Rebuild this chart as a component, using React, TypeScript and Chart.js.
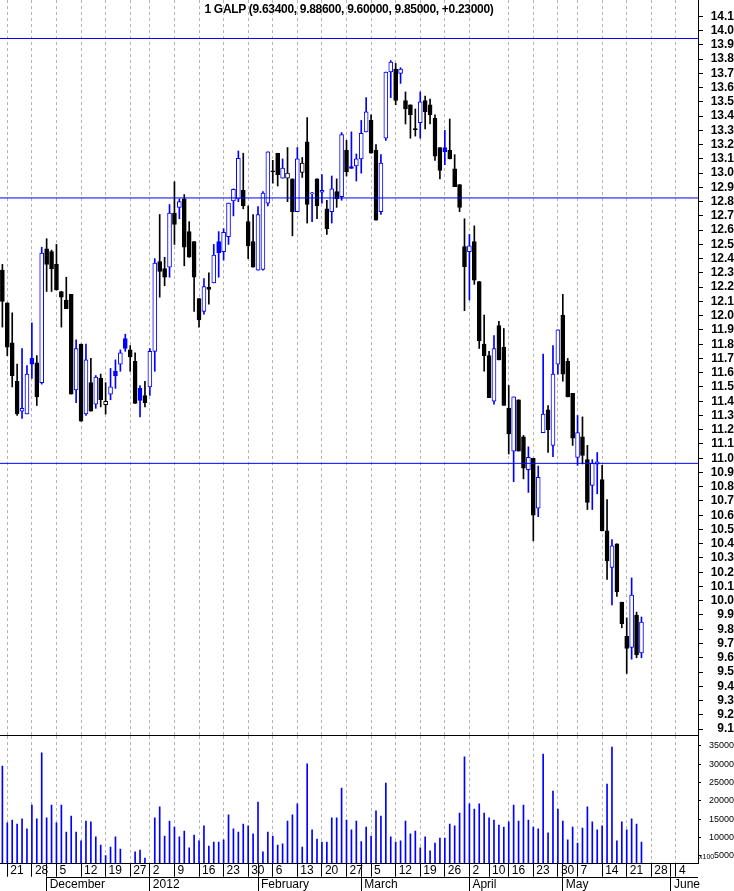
import React, { useEffect, useRef } from "react";
import { Chart, registerables } from "chart.js";

Chart.register(...registerables);

// ---- daily candles (trading days from 18 Nov 2011 to 24 May 2012) ----
const opens = [
  12.32, 12.09, 11.81, 11.54, 11.33, 11.31, 11.70, 11.67, 11.53, 12.47,
  12.45, 12.36, 12.17, 12.11, 12.15, 11.48, 11.80, 11.31, 11.53, 11.38,
  11.56, 11.375, 11.45, 11.61, 11.66, 11.84, 11.76, 11.68, 11.49, 11.44,
  11.50, 11.75, 12.38, 12.33, 12.34, 12.72, 12.76, 12.82, 12.59, 12.52,
  12.12, 12.03, 12.20, 12.23, 12.52, 12.45, 12.555, 12.805, 12.82, 12.88,
  12.66, 12.52, 12.32, 12.325, 12.79, 13.015, 13.14, 12.965, 12.965, 12.96,
  12.73, 13.005, 13.22, 12.855, 12.96, 12.866, 12.75, 12.73, 12.87, 12.835,
  13.16, 13.046, 13.05, 13.10, 13.29, 13.37, 13.16, 12.73, 13.245, 13.71,
  13.73, 13.70, 13.51, 13.48, 13.31, 13.355, 13.51, 13.48, 13.385, 13.18,
  13.18, 13.16, 13.03, 12.92, 12.485, 12.45, 12.52, 12.24, 11.80, 11.72,
  11.40, 11.93, 11.78, 11.35, 11.05, 11.41, 11.15, 10.92, 11.00, 10.65,
  11.18, 11.34, 11.09, 11.66, 12.005, 11.68, 11.455, 11.006, 11.15, 10.99,
  10.81, 10.959, 10.85, 10.49, 10.234, 10.40, 9.99, 9.75, 9.673, 9.90,
  9.634,
];
const highs = [
  12.36, 12.09, 12.02, 11.66, 11.77, 11.65, 11.95, 11.72, 12.48, 12.54,
  12.46, 12.50, 12.17, 12.27, 12.15, 11.83, 11.80, 11.80, 11.70, 11.58,
  11.59, 11.53, 11.63, 11.69, 11.76, 11.87, 11.79, 11.74, 11.51, 11.54,
  11.77, 12.40, 12.71, 12.41, 12.78, 12.94, 12.82, 12.85, 12.66, 12.52,
  12.12, 12.26, 12.30, 12.50, 12.59, 12.61, 12.79, 12.89, 13.156, 13.14,
  12.77, 12.71, 12.765, 12.87, 13.15, 13.09, 13.14, 13.10, 13.18, 12.96,
  13.18, 13.11, 13.39, 12.865, 12.96, 12.99, 12.81, 12.98, 12.96, 13.285,
  13.23, 13.29, 13.135, 13.37, 13.53, 13.41, 13.20, 13.13, 13.71, 13.79,
  13.77, 13.74, 13.57, 13.48, 13.45, 13.57, 13.54, 13.52, 13.41, 13.18,
  13.30, 13.38, 13.13, 12.92, 12.68, 12.57, 12.63, 12.24, 12.005, 11.75,
  11.86, 11.96, 11.91, 11.51, 11.43, 11.41, 11.16, 11.08, 11.00, 10.945,
  11.73, 11.37, 11.79, 11.90, 12.15, 11.70, 11.455, 11.30, 11.29, 11.09,
  10.99, 11.04, 10.95, 10.71, 10.43, 10.40, 9.99, 9.88, 10.16, 9.92,
  9.886,
];
const lows = [
  11.92, 11.72, 11.50, 11.30, 11.28, 11.31, 11.56, 11.37, 11.52, 12.17,
  12.17, 12.18, 11.92, 12.05, 11.45, 11.39, 11.26, 11.30, 11.33, 11.35,
  11.36, 11.31, 11.41, 11.49, 11.61, 11.75, 11.61, 11.385, 11.29, 11.36,
  11.44, 11.61, 12.13, 12.21, 12.27, 12.50, 12.68, 12.35, 12.41, 12.03,
  11.92, 12.01, 12.08, 12.23, 12.27, 12.39, 12.50, 12.70, 12.80, 12.75,
  12.40, 12.34, 12.32, 12.32, 12.77, 12.93, 12.91, 12.965, 12.80, 12.56,
  12.73, 12.97, 12.65, 12.66, 12.68, 12.79, 12.57, 12.65, 12.76, 12.81,
  12.98, 13.034, 12.945, 13.00, 13.29, 13.14, 12.67, 12.71, 13.23, 13.53,
  13.48, 13.63, 13.345, 13.245, 13.26, 13.245, 13.31, 13.345, 13.09, 12.96,
  13.06, 13.10, 12.905, 12.73, 12.035, 12.11, 12.22, 11.77, 11.61, 11.425,
  11.38, 11.69, 11.37, 11.03, 10.835, 11.05, 10.855, 10.76, 10.42, 10.59,
  11.18, 11.04, 11.01, 11.59, 11.54, 11.43, 11.09, 10.95, 10.96, 10.64,
  10.64, 10.75, 10.49, 10.15, 9.97, 10.03, 9.81, 9.49, 9.59, 9.60,
  9.60,
];
const closes = [
  12.10, 11.78, 11.58, 11.31, 11.35, 11.59, 11.66, 11.43, 12.44, 12.36,
  12.33, 12.18, 12.13, 12.05, 11.45, 11.77, 11.26, 11.69, 11.33, 11.57,
  11.41, 11.40, 11.50, 11.58, 11.74, 11.77, 11.71, 11.385, 11.405, 11.39,
  11.75, 12.37, 12.31, 12.27, 12.72, 12.64, 12.80, 12.48, 12.41, 12.27,
  11.97, 12.205, 12.185, 12.425, 12.44, 12.585, 12.79, 12.887, 13.104, 12.77,
  12.49, 12.34, 12.71, 12.86, 13.15, 13.01, 12.99, 13.035, 13.00, 12.73,
  13.10, 13.07, 12.78, 12.862, 12.77, 12.88, 12.61, 12.89, 12.82, 13.27,
  13.01, 13.034, 13.10, 13.28, 13.43, 13.14, 12.67, 13.07, 13.71, 13.78,
  13.51, 13.73, 13.45, 13.41, 13.305, 13.50, 13.43, 13.41, 13.12, 13.02,
  13.15, 13.10, 12.905, 12.76, 12.344, 12.49, 12.25, 11.825, 11.72, 11.425,
  11.77, 11.69, 11.37, 11.17, 11.43, 11.05, 10.93, 11.006, 10.60, 10.866,
  11.31, 11.20, 11.59, 11.90, 11.59, 11.43, 11.14, 11.18, 11.02, 10.69,
  10.964, 10.975, 10.49, 10.28, 10.386, 10.063, 9.84, 9.666, 10.04, 9.62,
  9.85,
];
// volume, in hundreds of shares
const volumes = [
  29500, 14000, 14800, 13700, 15100, 12400, 18900, 15100, 33100, 15400,
  18900, 14000, 18900, 11500, 15900, 11500, 9100, 14500, 14300, 10200,
  8000, 5100, 7400, 10200, 6900, 2500, 2500, 6100, 6600, 4400,
  2500, 15400, 18400, 10400, 14500, 12900, 10200, 11800, 7200, 10700,
  9100, 13200, 7700, 8800, 8800, 9400, 16200, 12400, 11500, 13700,
  13200, 11000, 19700, 6100, 11500, 10400, 8000, 8300, 14500, 16200,
  19200, 7400, 30100, 12100, 9600, 8800, 8800, 15400, 15400, 23500,
  14800, 12100, 14500, 8900, 12900, 10400, 17300, 15900, 24900, 10200,
  8800, 9100, 14500, 11000, 11800, 7200, 10200, 6400, 8500, 9900,
  9900, 13700, 13200, 16700, 32000, 19200, 17800, 19200, 16700, 15400,
  14800, 13400, 12900, 14300, 18900, 14500, 18900, 14800, 12900, 12400,
  32800, 11300, 22700, 17800, 14500, 9400, 12900, 8500, 12600, 18400,
  14300, 12100, 13200, 24600, 34700, 9100, 14300, 12100, 15100, 13700,
  8800,
];
const FIRST_PREV_CLOSE = 12.4;

const levelLines = [13.945, 12.826, 10.964];

const priceTicks = [
  9.1, 9.2, 9.3, 9.4, 9.5, 9.6, 9.7, 9.8, 9.9, 10.0,
  10.1, 10.2, 10.3, 10.4, 10.5, 10.6, 10.7, 10.8, 10.9, 11.0,
  11.1, 11.2, 11.3, 11.4, 11.5, 11.6, 11.7, 11.8, 11.9, 12.0,
  12.1, 12.2, 12.3, 12.4, 12.5, 12.6, 12.7, 12.8, 12.9, 13.0,
  13.1, 13.2, 13.3, 13.4, 13.5, 13.6, 13.7, 13.8, 13.9, 14.0, 14.1,
];
const volumeTicks = [5000, 10000, 15000, 20000, 25000, 30000, 35000];

// trading-day index of each week start, and its day-of-month label
const weekTickIndex = [1, 6, 11, 16, 21, 26, 30, 35, 40, 45, 50, 55, 60, 65, 70, 75, 80, 85, 90, 95, 99, 103, 108, 113, 117, 122, 127, 132, 137];
const weekTickLabels = ["21", "28", "5", "12", "19", "27", "2", "9", "16", "23", "30", "6", "13", "20", "27", "5", "12", "19", "26", "2", "10", "16", "23", "30", "7", "14", "21", "28", "4"];
// dashed grid lines fall on Mondays that were trading days
const gridTickIndex = [1, 6, 11, 16, 21, 26, 30, 35, 40, 45, 50, 55, 60, 65, 70, 75, 80, 85, 90, 95, 103, 108, 113, 117, 122, 127, 132, 137];
// trading-day index of each month start, and its label
const monthTickIndex = [9, 30, 52, 73, 95, 114, 136];
const monthTickLabels = ["December", "2012", "February", "March", "April", "May", "June"];

const TITLE = "1 GALP (9.63400, 9.88600, 9.60000, 9.85000, +0.23000)";

const X_MIN = -0.485;
const X_MAX = 141.5;
const PRICE_MIN = 9.058;
const PRICE_MAX = 14.215;
const VOL_MIN = 3000;
const VOL_MAX = 37700;

const BLUE = "#0000ff";
const BLACK = "#000000";
const GRID_GRAY = "#b4b4b4";
const FONT = "'Liberation Sans', Arial, sans-serif";

const noPad = (s: any) => {
  s.paddingTop = 0;
  s.paddingBottom = 0;
  s.paddingLeft = 0;
  s.paddingRight = 0;
};

// top border of the month boxes, starting at the first labelled month
const monthBoxPlugin = {
  id: "monthBox",
  afterDraw(chart: any) {
    const s = chart.scales.x2;
    if (!s) return;
    const ctx = chart.ctx;
    const x0 = Math.round(s.getPixelForValue(monthTickIndex[0]));
    const y = Math.round(s.top) + 0.5;
    ctx.save();
    ctx.strokeStyle = BLACK;
    ctx.lineWidth = 1;
    ctx.beginPath();
    ctx.moveTo(x0, y);
    ctx.lineTo(s.right, y);
    ctx.stroke();
    ctx.restore();
  },
};

export default function App() {
  const priceRef = useRef<HTMLCanvasElement>(null);
  const volRef = useRef<HTMLCanvasElement>(null);

  useEffect(() => {
    document.body.style.margin = "0";
    const n = closes.length;
    const idx = Array.from({ length: n }, (_, i) => i);
    const colors = idx.map((i) =>
      closes[i] >= (i === 0 ? FIRST_PREV_CLOSE : closes[i - 1]) ? BLUE : BLACK
    );
    const fills = idx.map((i) => (closes[i] > opens[i] ? "#ffffff" : colors[i]));
    const setTicks = (vals: number[]) => (scale: any) => {
      scale.ticks = vals.map((v) => ({ value: v }));
    };
    const gridSet = new Set(gridTickIndex);
    const dayAxisTicks = Array.from(new Set([...weekTickIndex, ...monthTickIndex])).sort((a, b) => a - b);

    const price = new Chart(priceRef.current as HTMLCanvasElement, {
      type: "bar",
      data: {
        datasets: [
          ...levelLines.map((v) => ({
            type: "line" as const,
            data: [
              { x: X_MIN, y: v },
              { x: X_MAX, y: v },
            ],
            borderColor: BLUE,
            borderWidth: 1,
            pointRadius: 0,
            order: 0,
          })),
          {
            type: "bar" as const,
            data: idx.map((i) => ({
              x: i,
              y: [Math.min(opens[i], closes[i]), Math.max(opens[i], closes[i])],
            })),
            backgroundColor: fills,
            borderColor: colors,
            borderWidth: 1,
            borderSkipped: false,
            barThickness: 4,
            grouped: false,
            minBarLength: 1,
            order: 1,
          },
          {
            type: "bar" as const,
            data: idx.map((i) => ({ x: i, y: [lows[i], highs[i]] })),
            backgroundColor: colors,
            borderWidth: 0,
            barThickness: 1,
            grouped: false,
            order: 2,
          },
        ],
      } as any,
      options: {
        responsive: false,
        animation: false,
        layout: { padding: 0, autoPadding: false },
        plugins: { legend: { display: false }, tooltip: { enabled: false } },
        scales: {
          x: {
            type: "linear",
            min: X_MIN,
            max: X_MAX,
            offset: false,
            afterBuildTicks: setTicks(gridTickIndex),
            ticks: { display: false },
            grid: { color: GRID_GRAY, drawTicks: false, offset: false },
            border: { display: true, color: BLACK, dash: [3, 3] },
            afterFit: (s: any) => {
              s.height = 1;
              noPad(s);
            },
          },
          y: {
            type: "linear",
            position: "right",
            min: PRICE_MIN,
            max: PRICE_MAX,
            afterBuildTicks: setTicks(priceTicks),
            ticks: {
              autoSkip: false,
              font: { family: FONT, size: 12, weight: "bold" },
              color: BLACK,
              padding: 6.5,
              crossAlign: "far",
              callback: (v: any) => Number(v).toFixed(1),
            },
            grid: { drawOnChartArea: false, drawTicks: true, tickLength: 5, color: BLACK },
            border: { display: true, color: BLACK },
            afterFit: (s: any) => {
              s.width = 36;
              noPad(s);
            },
          },
        },
      } as any,
    });

    const vol = new Chart(volRef.current as HTMLCanvasElement, {
      type: "bar",
      data: {
        datasets: [
          {
            data: idx.map((i) => ({ x: i, y: volumes[i] })),
            backgroundColor: BLUE,
            borderWidth: 0,
            barThickness: 1,
          },
        ],
      } as any,
      options: {
        responsive: false,
        animation: false,
        layout: { padding: 0, autoPadding: false },
        plugins: { legend: { display: false }, tooltip: { enabled: false } },
        scales: {
          x: {
            type: "linear",
            position: "bottom",
            min: X_MIN,
            max: X_MAX,
            offset: false,
            afterBuildTicks: setTicks(dayAxisTicks),
            ticks: {
              autoSkip: false,
              maxRotation: 0,
              align: "start",
              labelOffset: 3,
              padding: -13.4,
              font: { family: FONT, size: 12 },
              color: BLACK,
              callback: (v: any) => {
                const k = weekTickIndex.indexOf(Number(v));
                return k >= 0 ? weekTickLabels[k] : "";
              },
            },
            grid: {
              offset: false,
              color: (ctx: any) => (ctx.tick && gridSet.has(ctx.tick.value) ? GRID_GRAY : "rgba(0,0,0,0)"),
              drawTicks: true,
              tickLength: 13.4,
              tickColor: BLACK,
              tickWidth: 1,
            },
            border: { display: true, color: BLACK, dash: [3, 3] },
            afterFit: (s: any) => {
              s.height = 13.4;
              noPad(s);
            },
          },
          x2: {
            type: "linear",
            position: "bottom",
            min: X_MIN,
            max: X_MAX,
            offset: false,
            afterBuildTicks: setTicks(monthTickIndex),
            ticks: {
              autoSkip: false,
              maxRotation: 0,
              align: "start",
              labelOffset: 3,
              padding: -13.2,
              font: { family: FONT, size: 12 },
              color: BLACK,
              callback: (v: any) => {
                const k = monthTickIndex.indexOf(Number(v));
                return k >= 0 ? monthTickLabels[k] : "";
              },
            },
            grid: {
              offset: false,
              drawOnChartArea: false,
              drawTicks: true,
              tickLength: 14.3,
              tickColor: BLACK,
            },
            border: { display: false },
            afterFit: (s: any) => {
              s.height = 14.3;
              noPad(s);
            },
          },
          y: {
            type: "linear",
            position: "right",
            min: VOL_MIN,
            max: VOL_MAX,
            afterBuildTicks: setTicks(volumeTicks),
            ticks: {
              autoSkip: false,
              font: { family: FONT, size: 9 },
              color: BLACK,
              padding: 8,
              crossAlign: "far",
              callback: (v: any) => String(v),
            },
            grid: { drawOnChartArea: false, drawTicks: true, tickLength: 3, color: BLACK },
            border: { display: true, color: BLACK },
            afterFit: (s: any) => {
              s.width = 36;
              noPad(s);
            },
          },
        },
      } as any,
      plugins: [monthBoxPlugin],
    });

    return () => {
      price.destroy();
      vol.destroy();
    };
  }, []);

  return (
    <div style={{ position: "absolute", left: 0, top: 0, width: 734, height: 891, background: "#fff", overflow: "hidden" }}>
      <canvas ref={priceRef} width={734} height={736} style={{ position: "absolute", left: 0, top: 0, display: "block" }} />
      <canvas ref={volRef} width={734} height={155} style={{ position: "absolute", left: 0, top: 736, display: "block" }} />
      <div
        style={{
          position: "absolute",
          left: 0,
          top: 2,
          width: 698,
          textAlign: "center",
          font: `bold 12px ${FONT}`,
          lineHeight: "14px",
          color: BLACK,
          whiteSpace: "nowrap",
          letterSpacing: "-0.3px",
        }}
      >
        {TITLE}
      </div>
      <span
        style={{
          position: "absolute",
          left: 699,
          top: 853,
          font: `7px ${FONT}`,
          lineHeight: "8px",
          color: BLACK,
        }}
      >
        x100
      </span>
    </div>
  );
}
